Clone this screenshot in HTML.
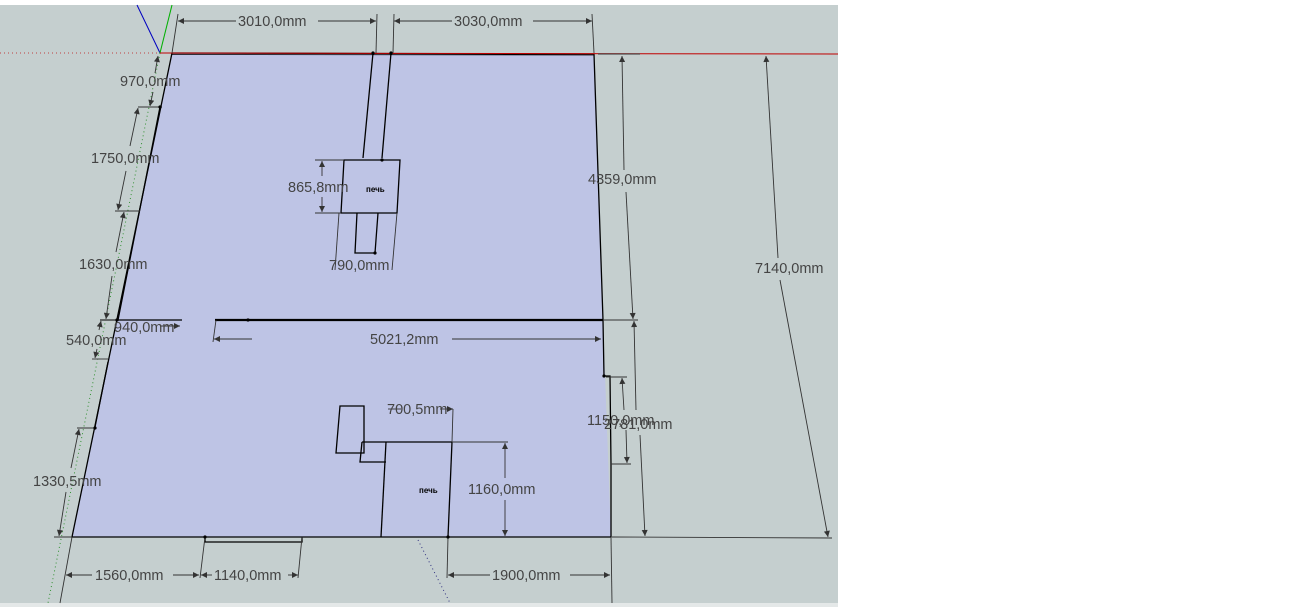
<!DOCTYPE html>
<html><head><meta charset="utf-8"><style>
body{margin:0;background:#fff;width:1300px;height:610px;overflow:hidden}
svg{display:block}
text{font-family:"Liberation Sans",sans-serif;font-size:14.5px;fill:#444}
</style></head><body>
<svg width="1300" height="610" viewBox="0 0 1300 610">
<defs>
<marker id="a" viewBox="0 0 10 10" refX="10" refY="5" markerWidth="9" markerHeight="6" orient="auto-start-reverse" markerUnits="userSpaceOnUse"><path d="M0,0L10,5L0,10z" fill="#333"/></marker>
</defs>
<rect x="0" y="5" width="838" height="598" fill="#c5cfcf"/>
<rect x="0" y="603" width="838" height="4" fill="#e4e8e8"/>
<polygon points="172,53 594,54 603,320 611,537 72,537" fill="#bec4e5"/>
<line x1="0" y1="53" x2="160" y2="53" stroke="#c04040" stroke-dasharray="1,3"/>
<line x1="137" y1="5" x2="160" y2="53" stroke="#0000c0"/>
<line x1="172" y1="5" x2="160" y2="53" stroke="#00b000"/>
<line x1="160" y1="53" x2="48" y2="603" stroke="#309030" stroke-dasharray="1,3"/>
<line x1="418" y1="540" x2="450" y2="603" stroke="#303080" stroke-dasharray="1,3"/>
<g stroke="#000" fill="none" stroke-width="1.3">
<polyline points="172,53 594,54 603,320 604,376 610,376 611,464 611,537 72,537 172,53"/>
<line x1="160" y1="107" x2="118" y2="320"/>
<line x1="108" y1="362" x2="95" y2="427"/>
<line x1="373" y1="53" x2="363" y2="158"/>
<line x1="391" y1="53" x2="382" y2="158"/>
<polygon points="344,160 400,160 397,213 341,213"/>
<polyline points="357,213 355,253 375,253 378,213"/>
<line x1="100" y1="320" x2="182" y2="320"/>
<line x1="215" y1="320" x2="603" y2="320" stroke-width="2.2"/>
<polygon points="340,406 364,406 364,453 336,453"/>
<line x1="362" y1="442" x2="452" y2="442"/>
<polyline points="362,442 360,462 386,462"/>
<line x1="386" y1="442" x2="381" y2="537"/>
<line x1="452" y1="442" x2="448" y2="537"/>
<polyline points="205,537 205,542 302,542 302,537"/>
</g>
<line x1="160" y1="53" x2="838" y2="54" stroke="#c00000" stroke-width="1"/>
<line x1="172" y1="54.5" x2="594" y2="55" stroke="#000" stroke-width="0.8"/>
<g stroke="#333" fill="none" stroke-width="0.9">
<line x1="172" y1="53" x2="178" y2="14"/><line x1="376" y1="53" x2="377" y2="14"/>
<line x1="393" y1="53" x2="394" y2="14"/><line x1="594" y1="53" x2="592" y2="14"/>
<line x1="178" y1="21" x2="236" y2="21" marker-start="url(#a)"/><line x1="318" y1="21" x2="376" y2="21" marker-end="url(#a)"/>
<line x1="394" y1="21" x2="452" y2="21" marker-start="url(#a)"/><line x1="533" y1="21" x2="592" y2="21" marker-end="url(#a)"/>
<line x1="138" y1="107" x2="162" y2="107"/><line x1="115" y1="211" x2="140" y2="211"/>
<line x1="100" y1="320" x2="118" y2="320"/><line x1="92" y1="359" x2="108" y2="359"/>
<line x1="77" y1="428" x2="96" y2="428"/><line x1="54" y1="537" x2="72" y2="537"/>
<line x1="158" y1="56" x2="155" y2="73" marker-start="url(#a)"/><line x1="153" y1="92" x2="150" y2="106" marker-end="url(#a)"/>
<line x1="138" y1="108" x2="130" y2="146" marker-start="url(#a)"/><line x1="126" y1="171" x2="118" y2="210" marker-end="url(#a)"/>
<line x1="124" y1="212" x2="116" y2="252" marker-start="url(#a)"/><line x1="112" y1="276" x2="106" y2="319" marker-end="url(#a)"/>
<line x1="101" y1="321" x2="99" y2="330" marker-start="url(#a)"/><line x1="97" y1="349" x2="95" y2="358" marker-end="url(#a)"/>
<line x1="79" y1="429" x2="71" y2="468" marker-start="url(#a)"/><line x1="66" y1="492" x2="59" y2="536" marker-end="url(#a)"/>
<line x1="160" y1="326" x2="180" y2="326" marker-end="url(#a)"/>
<line x1="315" y1="160" x2="344" y2="160"/><line x1="315" y1="213" x2="341" y2="213"/>
<line x1="322" y1="161" x2="322" y2="176" marker-start="url(#a)"/><line x1="322" y1="197" x2="322" y2="212" marker-end="url(#a)"/>
<line x1="339" y1="213" x2="335" y2="270"/><line x1="397" y1="213" x2="392" y2="270"/>
<line x1="216" y1="320" x2="213" y2="342"/>
<line x1="214" y1="339" x2="252" y2="339" marker-start="url(#a)"/><line x1="452" y1="339" x2="601" y2="339" marker-end="url(#a)"/>
<line x1="603" y1="320" x2="638" y2="320"/>
<line x1="598" y1="54" x2="640" y2="54"/>
<line x1="622" y1="56" x2="624" y2="170" marker-start="url(#a)"/><line x1="626" y1="192" x2="633" y2="319" marker-end="url(#a)"/>
<line x1="634" y1="321" x2="636" y2="410" marker-start="url(#a)"/><line x1="640" y1="435" x2="645" y2="536" marker-end="url(#a)"/>
<line x1="606" y1="377" x2="627" y2="377"/><line x1="611" y1="464" x2="631" y2="464"/>
<line x1="622" y1="378" x2="624" y2="410" marker-start="url(#a)"/><line x1="626" y1="430" x2="627" y2="463" marker-end="url(#a)"/>
<line x1="766" y1="56" x2="778" y2="258" marker-start="url(#a)"/><line x1="780" y1="280" x2="828" y2="537" marker-end="url(#a)"/>
<line x1="612" y1="537" x2="832" y2="538"/>
<line x1="452" y1="442" x2="508" y2="442"/>
<line x1="505" y1="443" x2="505" y2="478" marker-start="url(#a)"/><line x1="505" y1="500" x2="505" y2="536" marker-end="url(#a)"/>
<line x1="453" y1="409" x2="452" y2="442"/>
<line x1="388" y1="409" x2="401" y2="409"/><line x1="440" y1="409" x2="453" y2="409" marker-end="url(#a)"/>
<line x1="72" y1="537" x2="60" y2="603"/><line x1="205" y1="537" x2="200" y2="578"/><line x1="302" y1="537" x2="298" y2="578"/>
<line x1="448" y1="537" x2="447" y2="578"/><line x1="611" y1="537" x2="612" y2="603"/>
<line x1="66" y1="575" x2="92" y2="575" marker-start="url(#a)"/><line x1="173" y1="575" x2="199" y2="575" marker-end="url(#a)"/>
<line x1="201" y1="575" x2="212" y2="575" marker-start="url(#a)"/><line x1="288" y1="575" x2="298" y2="575" marker-end="url(#a)"/>
<line x1="448" y1="575" x2="490" y2="575" marker-start="url(#a)"/><line x1="570" y1="575" x2="610" y2="575" marker-end="url(#a)"/>
</g>
<g fill="#000">
<circle cx="160" cy="107" r="1.6"/><circle cx="373" cy="53" r="1.6"/><circle cx="391" cy="53" r="1.6"/>
<circle cx="382" cy="160" r="1.6"/><circle cx="375" cy="253" r="1.6"/><circle cx="117" cy="320" r="1.6"/>
<circle cx="248" cy="320" r="1.6"/><circle cx="95" cy="428" r="1.6"/><circle cx="205" cy="537" r="1.6"/>
<circle cx="448" cy="537" r="1.6"/><circle cx="604" cy="376" r="1.6"/>
</g>
<g>
<text x="238" y="26">3010,0mm</text>
<text x="454" y="26">3030,0mm</text>
<text x="120" y="86">970,0mm</text>
<text x="91" y="163">1750,0mm</text>
<text x="79" y="269">1630,0mm</text>
<text x="114" y="332">940,0mm</text>
<text x="66" y="345">540,0mm</text>
<text x="33" y="486">1330,5mm</text>
<text x="288" y="192">865,8mm</text>
<text x="329" y="270">790,0mm</text>
<text x="370" y="344">5021,2mm</text>
<text x="588" y="184">4359,0mm</text>
<text x="755" y="273">7140,0mm</text>
<text x="587" y="425">1150,0mm</text>
<text x="604" y="429">2781,0mm</text>
<text x="387" y="414">700,5mm</text>
<text x="468" y="494">1160,0mm</text>
<text x="95" y="580">1560,0mm</text>
<text x="214" y="580">1140,0mm</text>
<text x="492" y="580">1900,0mm</text>
<text x="366" y="192" style="font-size:8px;font-weight:bold;fill:#000">печь</text>
<text x="419" y="493" style="font-size:8px;font-weight:bold;fill:#000">печь</text>
</g>
</svg>
</body></html>
